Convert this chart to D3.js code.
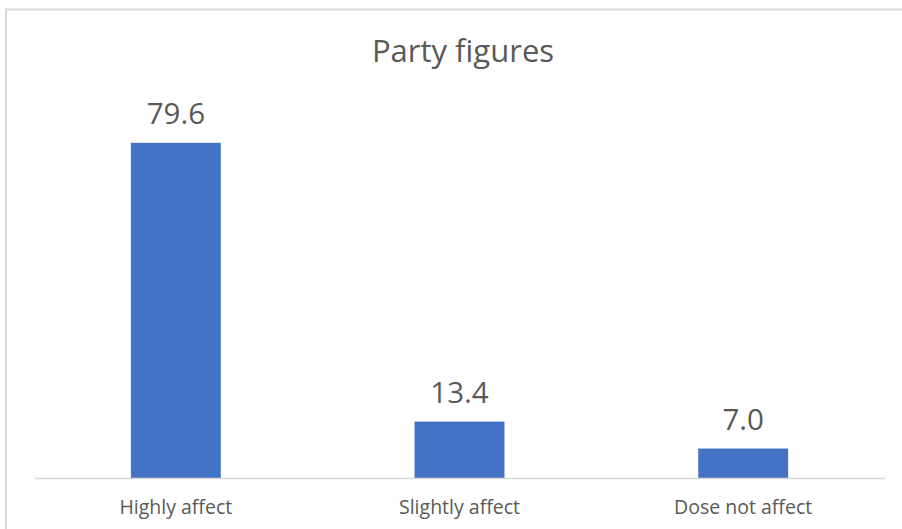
<!DOCTYPE html>
<html>
<head>
<meta charset="utf-8">
<script src="https://cdn.jsdelivr.net/npm/d3@7"></script>
<style>
  html, body { margin: 0; padding: 0; background: #ffffff; }
  svg { display: block; }
  text { font-family: "Open Sans", "DejaVu Sans", sans-serif; fill: #595959; }
</style>
</head>
<body>
<script>
// Chart data
const categories = ["Highly affect", "Slightly affect", "Dose not affect"];
const values = [79.6, 13.4, 7.0];
const chartTitle = "Party figures";

const W = 902, H = 529;
const svg = d3.select("body").append("svg")
  .attr("width", W).attr("height", H);

// Chart frame (top and left edges visible)
svg.append("rect")
  .attr("x", 6).attr("y", 9.5)
  .attr("width", W + 20).attr("height", H + 20)
  .attr("fill", "none")
  .attr("stroke", "#d9d9d9")
  .attr("stroke-width", 2);

const plot = { left: 34, right: 885, top: 99, bottom: 478 };

const x = d3.scaleBand()
  .domain(categories)
  .range([plot.left, plot.right])
  .paddingInner(0.683)
  .paddingOuter(0.3415);

const y = d3.scaleLinear()
  .domain([0, 90])
  .range([plot.bottom, plot.top]);

// Title
svg.append("text")
  .attr("x", 463).attr("y", 62)
  .attr("text-anchor", "middle")
  .style("font-size", "31px")
  .text(chartTitle);

// Bars
svg.selectAll("rect.bar")
  .data(values)
  .join("rect")
  .attr("class", "bar")
  .attr("x", (d, i) => x(categories[i]))
  .attr("y", d => y(d))
  .attr("width", x.bandwidth())
  .attr("height", d => y(0) - y(d))
  .attr("fill", "#4472c4");

// Value labels
svg.selectAll("text.value")
  .data(values)
  .join("text")
  .attr("class", "value")
  .attr("x", (d, i) => x(categories[i]) + x.bandwidth() / 2)
  .attr("y", d => y(d) - 19)
  .attr("text-anchor", "middle")
  .style("font-size", "29.5px")
  .text(d => d.toFixed(1));

// Category axis
const axis = svg.append("g")
  .attr("transform", `translate(0,${plot.bottom})`)
  .call(d3.axisBottom(x).tickSize(0).tickPadding(0));
axis.select(".domain")
  .attr("stroke", "#d9d9d9")
  .attr("stroke-width", 1.5);
axis.selectAll(".tick text")
  .attr("dy", 0)
  .attr("y", 36)
  .style("font-size", "19.5px")
  .style("font-family", "\"Open Sans\", \"DejaVu Sans\", sans-serif")
  .attr("fill", "#595959");
</script>
</body>
</html>
